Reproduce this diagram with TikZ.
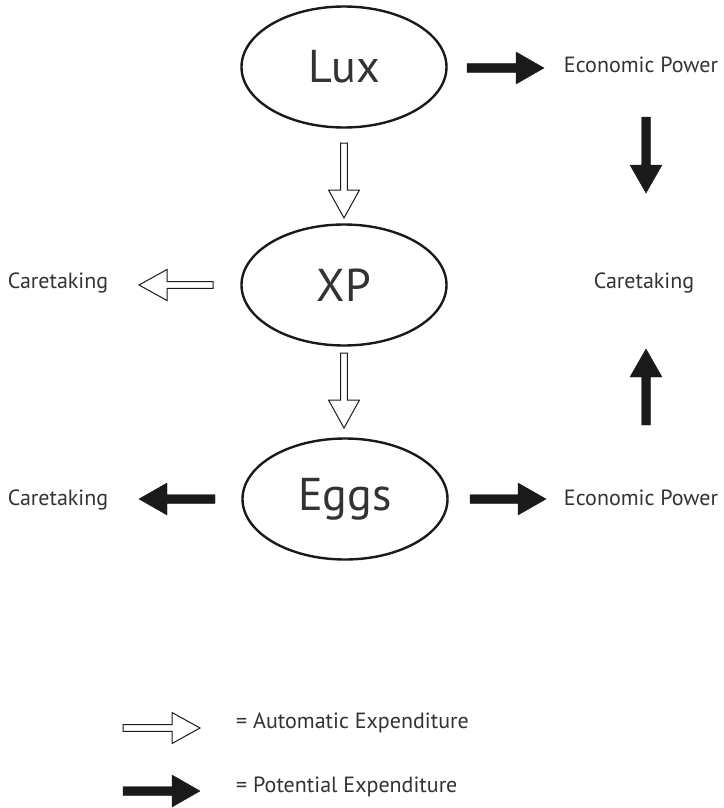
\documentclass[tikz,border=0pt]{standalone}
\usepackage{fontspec}
\setmainfont{PT Sans}
\usetikzlibrary{calc,shapes.geometric}
\definecolor{ink}{HTML}{1A1A1A}
\definecolor{txt}{HTML}{333333}
\tikzset{
  arrowshape/.style n args={3}{to path={
    ($(\tikztostart)!#1!90:(\tikztotarget)$)
    -- ($(\tikztotarget)!#3!(\tikztostart)!#1!-90:(\tikztostart)$)
    -- ($(\tikztotarget)!#3!(\tikztostart)!#2!-90:(\tikztostart)$)
    -- (\tikztotarget)
    -- ($(\tikztotarget)!#3!(\tikztostart)!#2!90:(\tikztostart)$)
    -- ($(\tikztotarget)!#3!(\tikztostart)!#1!90:(\tikztostart)$)
    -- ($(\tikztostart)!#1!-90:(\tikztotarget)$)
    -- cycle}},
  autoexp/.style={draw=ink, fill=white, line width=1pt, line join=miter, arrowshape={3.3pt}{15.5pt}{28pt}},
  potexp/.style={draw=ink, fill=ink, line width=0.4pt, line join=miter, arrowshape={4.3pt}{16pt}{28pt}},
  oval/.style={ellipse, draw=ink, line width=2.4pt, minimum width=205pt, minimum height=121pt,
    inner sep=0pt, text=txt, font=\fontsize{46}{50}\selectfont},
  lbl/.style={anchor=base, inner sep=0pt, text=txt, font=\fontsize{22}{26}\selectfont}
}
\begin{document}
\begin{tikzpicture}[x=1pt,y=-1pt]
\useasboundingbox[fill=white] (0,0) rectangle (723,808);
% ovals
\node[oval] (lux) at (344,67) {Lux};
\node[oval] (xp) at (344,285) {XP};
\node[oval] (eggs) at (345,499) {Eggs};
% labels
\node[lbl] (ep1) at (641,72) {Economic Power};
\node[lbl] (ct1) at (644,288) {Caretaking};
\node[lbl] (ct0) at (58,288) {Caretaking};
\node[lbl] (ct2) at (58,505) {Caretaking};
\node[lbl] (ep2) at (641,505) {Economic Power};
\node[lbl, anchor=base west] (la) at (236,728) {= Automatic Expenditure};
\node[lbl, anchor=base west] (lp) at (236,792) {= Potential Expenditure};
% arrow end points
\coordinate (a1s) at (344,143); \coordinate (a1e) at (344,218);
\coordinate (a2s) at (344,353); \coordinate (a2e) at (344,428);
\coordinate (a3s) at (213,285); \coordinate (a3e) at (139,285);
\coordinate (b1s) at (467,68);  \coordinate (b1e) at (544,68);
\coordinate (b2s) at (646,117); \coordinate (b2e) at (646,193);
\coordinate (b3s) at (646,425); \coordinate (b3e) at (646,349);
\coordinate (b4s) at (215,499); \coordinate (b4e) at (139,499);
\coordinate (b5s) at (470,499); \coordinate (b5e) at (546,499);
\coordinate (l1s) at (123,728); \coordinate (l1e) at (200,728);
\coordinate (l2s) at (123,791); \coordinate (l2e) at (200,791);
% automatic expenditure arrows
\draw[autoexp] (a1s) to (a1e);
\draw[autoexp] (a2s) to (a2e);
\draw[autoexp] (a3s) to (a3e);
\draw[autoexp] (l1s) to (l1e);
% potential expenditure arrows
\draw[potexp] (b1s) to (b1e);
\draw[potexp] (b2s) to (b2e);
\draw[potexp] (b3s) to (b3e);
\draw[potexp] (b4s) to (b4e);
\draw[potexp] (b5s) to (b5e);
\draw[potexp] (l2s) to (l2e);
\end{tikzpicture}
\end{document}
